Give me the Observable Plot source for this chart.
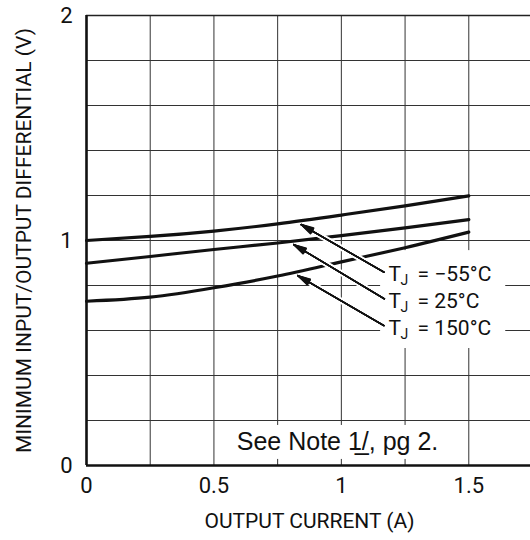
<!DOCTYPE html>
<html>
<head>
<meta charset="utf-8">
<script src="https://cdn.jsdelivr.net/npm/d3@7"></script>
<script src="https://cdn.jsdelivr.net/npm/@observablehq/plot@0.6"></script>
<style>
  html, body { margin: 0; padding: 0; background: white; overflow: hidden; }
  #chart svg { display: block; }
</style>
</head>
<body>
<div id="chart"></div>
<script>
// ---- data ----
const current = [0, 0.25, 0.5, 0.75, 1.0, 1.25, 1.5];
const vMinus55 = [1.0, 1.018, 1.042, 1.074, 1.113, 1.154, 1.198];
const v25 = [0.899, 0.929, 0.96, 0.989, 1.022, 1.056, 1.093];
const v150 = [0.73, 0.748, 0.79, 0.842, 0.905, 0.968, 1.037];
const seriesNames = ["-55", "25", "150"];
const labelTexts = ["= \u221255\u00B0C", "= 25\u00B0C", "= 150\u00B0C"];
const labelY = [0.85, 0.728, 0.608];
const labelX = 1.185;
const arrowTipX = [0.842, 0.813, 0.829];
const arrowTipY = [1.071, 0.982, 0.844];
const arrowTailX = [1.167, 1.169, 1.167];
const arrowTailY = [0.859, 0.741, 0.622];
const xTicks = [0, 0.5, 1, 1.5];
const yTicks = [0, 1, 2];
const xGrid = [0.25, 0.5, 0.75, 1, 1.25, 1.5, 1.75];
const yGrid = [0.2, 0.4, 0.6, 0.8, 1.0, 1.2, 1.4, 1.6, 1.8];
const xTitle = "OUTPUT CURRENT (A)";
const yTitle = "MINIMUM INPUT/OUTPUT DIFFERENTIAL (V)";
const legendBox = {x1: 1.154, x2: 1.645, y1: 0.52, y2: 0.955};
const noteBox = {x1: 0.526, x2: 1.467, y1: 0.027, y2: 0.178};
const noteText = "See Note 1\u0332/, pg 2.";
const noteX = 0.985, noteY = 0.105;

// ---- tables ----
const allV = [vMinus55, v25, v150];
const curves = [];
seriesNames.forEach((s, i) => current.forEach((c, j) => curves.push({series: s, x: c, y: allV[i][j]})));
const labels = labelTexts.map((t, i) => ({t, y: labelY[i]}));
const arrows = arrowTipX.map((_, i) => ({x1: arrowTailX[i], y1: arrowTailY[i], x2: arrowTipX[i], y2: arrowTipY[i]}));

const font = "Roboto, 'Liberation Sans', Arial, sans-serif";
const headAngles = [4, 9, 14, 19, 24, 29];

const chart = Plot.plot({
  width: 530,
  height: 540,
  marginLeft: 86,
  marginRight: -2,
  marginTop: 15,
  marginBottom: 75,
  style: {fontFamily: font, fontSize: "22px", color: "#111", background: "white", overflow: "hidden"},
  x: {domain: [0, 1.75], ticks: xTicks, tickSize: 0, tickPadding: 12, tickFormat: d => String(d), label: null},
  y: {domain: [0, 2], ticks: yTicks, tickSize: 0, tickPadding: 14, tickFormat: d => String(d), label: null},
  marks: [
    Plot.ruleX(xGrid, {stroke: "#333", strokeWidth: 1}),
    Plot.ruleY(yGrid, {stroke: "#333", strokeWidth: 1}),
    Plot.ruleY([2], {stroke: "#222", strokeWidth: 1.6}),
    Plot.rect([legendBox], {x1: "x1", x2: "x2", y1: "y1", y2: "y2", fill: "white"}),
    Plot.rect([noteBox], {x1: "x1", x2: "x2", y1: "y1", y2: "y2", fill: "white"}),
    Plot.ruleX([0], {stroke: "#111", strokeWidth: 2.6}),
    Plot.ruleY([0], {stroke: "#111", strokeWidth: 2.6}),
    Plot.line(curves, {x: "x", y: "y", z: "series", curve: "natural", stroke: "#111", strokeWidth: 3.2}),
    Plot.arrow(arrows, {x1: "x1", y1: "y1", x2: "x2", y2: "y2", stroke: "white", strokeWidth: 6, headLength: 0, insetStart: 4, insetEnd: 16}),
    ...headAngles.map(a => Plot.arrow(arrows, {x1: "x1", y1: "y1", x2: "x2", y2: "y2", stroke: "#111", strokeWidth: 1.4, headLength: 14, headAngle: a})),
    Plot.text(labels, {x: labelX, y: "y", text: () => "T", textAnchor: "start", fontSize: 21, fill: "#111"}),
    Plot.text(labels, {x: labelX, y: "y", text: () => "J", textAnchor: "start", fontSize: 14, dx: 12, dy: 6, fill: "#111"}),
    Plot.text(labels, {x: labelX, y: "y", text: "t", textAnchor: "start", fontSize: 21, dx: 29, fill: "#111"}),
    Plot.text([noteText], {x: noteX, y: noteY, text: d => d, fontFamily: "'Liberation Sans', Arial, sans-serif", fontSize: 25, fill: "#111"}),
    Plot.text([xTitle], {frameAnchor: "bottom", dy: 56, lineAnchor: "middle", textAnchor: "middle", text: d => d, fontSize: 21, fill: "#111"}),
    Plot.text([yTitle], {frameAnchor: "left", dx: -62, rotate: -90, textAnchor: "middle", lineAnchor: "middle", text: d => d, fontSize: 21, fill: "#111"})
  ]
});
document.getElementById("chart").appendChild(chart);
</script>
</body>
</html>
